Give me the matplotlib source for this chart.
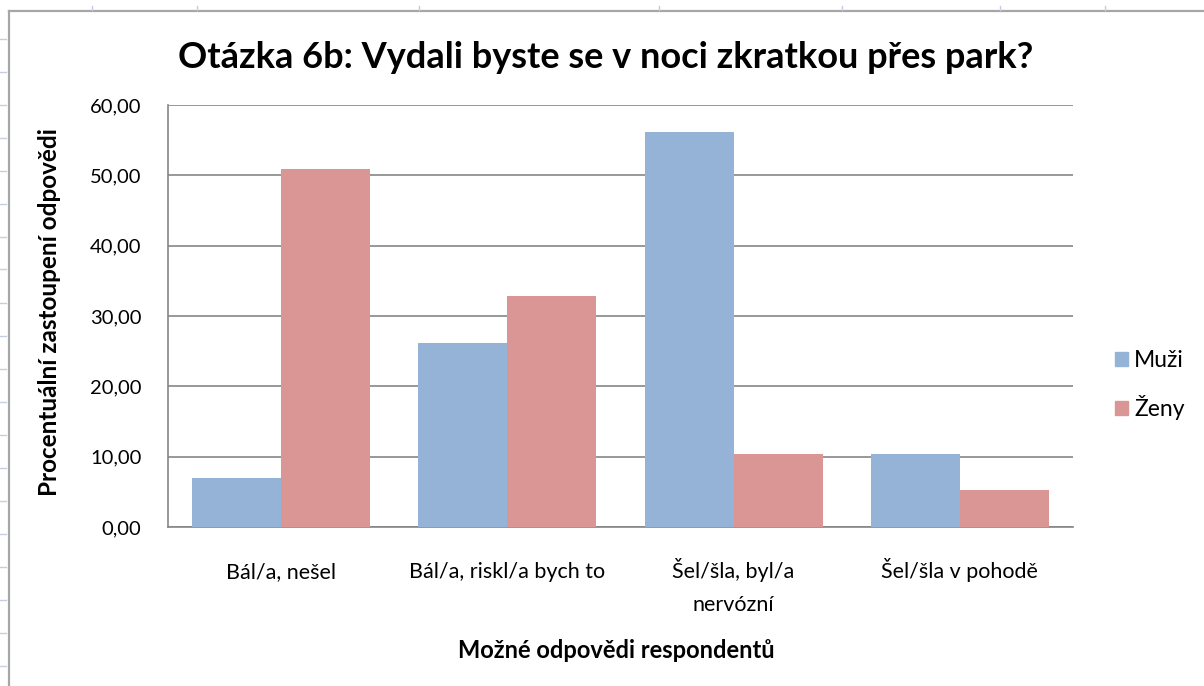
import matplotlib.pyplot as plt
from matplotlib.lines import Line2D
from matplotlib.patches import Patch
from matplotlib.transforms import offset_copy
import numpy as np

plt.rcParams['font.family'] = ['Lato', 'DejaVu Sans']

categories = ['Bál/a, nešel', 'Bál/a, riskl/a bych to', 'Šel/šla, byl/a\nnervózní', 'Šel/šla v pohodě']
muzi = [7.0, 26.2, 56.1, 10.4]
zeny = [50.9, 32.8, 10.4, 5.3]
series_names = ['Muži', 'Ženy']
yticks = [0, 10, 20, 30, 40, 50, 60]

COLOR_MUZI = '#95b3d7'
COLOR_ZENY = '#d99694'
GRID = '#868686'

fig = plt.figure(figsize=(12.04, 6.86), dpi=100)

# spreadsheet frame behind the chart
fig.add_artist(Line2D([8.5 / 1204, 8.5 / 1204], [0, 1 - 11 / 686], color='#a6a6a6', lw=1.6,
                      transform=fig.transFigure))
fig.add_artist(Line2D([8.5 / 1204, 1], [1 - 11 / 686, 1 - 11 / 686], color='#a6a6a6', lw=1.6,
                      transform=fig.transFigure))
for y in np.arange(38.5, 686, 33):
    fig.add_artist(Line2D([0, 6 / 1204], [1 - y / 686] * 2, color='#c5cde0', lw=1,
                          transform=fig.transFigure))
for x in [92, 197, 419, 659, 842, 1000, 1105]:
    fig.add_artist(Line2D([x / 1204] * 2, [1 - 6 / 686, 1 - 10 / 686], color='#c5cde0', lw=1,
                          transform=fig.transFigure))

ax = fig.add_axes([168 / 1204, 1 - 527 / 686, (1073 - 168) / 1204, (527 - 105) / 686])

x = np.arange(len(categories))
w = 0.393
ax.bar(x - w / 2, muzi, w, color=COLOR_MUZI, zorder=3)
ax.bar(x + w / 2, zeny, w, color=COLOR_ZENY, zorder=3)

ax.set_xlim(-0.5, len(categories) - 0.5)
ax.set_ylim(0, 60)
ax.set_yticks(yticks)
ax.set_yticklabels([f'{v:.2f}'.replace('.', ',') for v in yticks], fontsize=14.5)
ax.set_xticks(x)
ax.set_xticklabels([])
ax.tick_params(axis='both', length=0)
ax.tick_params(axis='y', pad=19)

# category labels line by line, so every first line shares one baseline
for i, label in enumerate(categories):
    for k, line in enumerate(label.split('\n')):
        tr = offset_copy(ax.get_xaxis_transform(), fig=fig, y=-(51 + 33 * k), units='dots')
        ax.text(i, 0, line, transform=tr, ha='center', va='baseline', fontsize=15.5)

ax.grid(axis='y', color=GRID, lw=1.2, zorder=0)
for s in ['top', 'right']:
    ax.spines[s].set_visible(False)
for s in ['left', 'bottom']:
    ax.spines[s].set_color(GRID)
    ax.spines[s].set_linewidth(1.2)

fig.text(0.503, 1 - 57 / 686, 'Otázka 6b: Vydali byste se v noci zkratkou přes park?',
         ha='center', va='center', fontsize=26, fontweight='bold')
fig.text(50 / 1204, 1 - 312 / 686, 'Procentuální zastoupení odpovědi', rotation=90,
         ha='center', va='center', fontsize=17.5, fontweight='bold')
fig.text(616 / 1204, 1 - 651 / 686, 'Možné odpovědi respondentů',
         ha='center', va='center', fontsize=17, fontweight='bold')

handles = [Patch(color=COLOR_MUZI), Patch(color=COLOR_ZENY)]
fig.legend(handles, series_names, loc='center left', bbox_to_anchor=(1094 / 1204, 1 - 385 / 686),
           frameon=False, fontsize=16.5, handlelength=0.6, handleheight=0.6, handletextpad=0.25,
           labelspacing=1.05)

fig.savefig('out.png', dpi=100, facecolor='white')
